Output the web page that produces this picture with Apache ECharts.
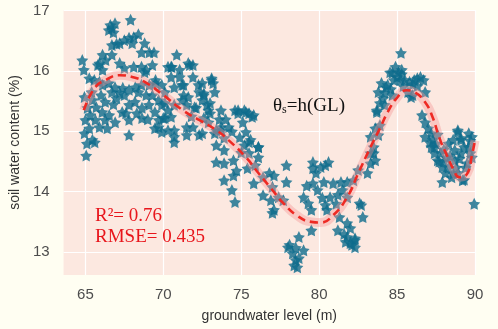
<!DOCTYPE html>
<html>
<head>
<meta charset="utf-8">
<script src="https://cdn.jsdelivr.net/npm/echarts@6/dist/echarts.min.js"></script>
<style>
  html, body { margin: 0; padding: 0; background: #fffef2; }
  #chart { width: 498px; height: 329px; }
</style>
</head>
<body>
<div id="chart"></div>
<script>
// groundwater level (m) / soil water content (%) observations
const obsLevel = [
  66.6, 66.9, 66.5, 66.7, 66.8, 67.9,
  66.7, 67.0, 67.5, 67.8, 68.1, 68.4, 68.0, 68.8, 69.1, 68.6, 69.4, 67.2,
  64.8, 64.9, 66.1, 66.3, 65.8, 66.7, 67.2, 67.5, 68.1, 68.6, 68.9, 69.3, 70.5, 66.1, 65.9, 68.8,
  65.25, 65.57, 65.9, 66.1, 66.5, 66.9, 67.4, 67.8, 68.2, 68.6, 69.1, 69.5, 69.9, 70.1, 67.2, 67.5, 66.7, 68.4, 69.3, 69.5,
  64.94, 65.45, 65.13, 66.27, 66.08, 66.53, 67.36, 67.8, 68.18, 68.63, 69.08, 69.46, 69.9, 65.32, 65.0, 65.64, 66.27, 67.8,
  66.91, 68.63, 69.71, 70.1, 65.25, 65.9, 64.94, 65.45, 67.8, 69.46, 69.9, 65.1, 65.6, 65.05,
  65.4, 66.0, 66.4, 66.8, 67.0, 67.6, 68.3, 69.0, 65.7, 68.9,
  70.86, 70.54, 71.69, 71.05, 71.05, 71.2, 72.26, 73.1, 73.2, 72.3, 72.6, 71.3, 71.5, 70.7, 72.8, 72.1, 73.0, 70.5, 72.6,
  74.8, 75.3, 75.8, 75.1, 71.9, 70.7, 73.4, 73.7, 71.5, 72.3, 73.9, 75.3, 75.5,
  71.6, 71.9, 70.3, 70.5, 70.7, 71.3, 71.9, 72.5, 73.1, 72.6, 73.3, 73.0, 72.9, 73.7, 74.2, 73.7, 73.3,
  74.6, 74.8, 75.2, 75.5, 71.2, 71.6, 72.0, 72.5, 69.7, 70.1, 70.3, 70.0, 69.7, 70.3, 70.7, 70.7, 71.5, 72.5,
  74.0, 74.4, 74.9, 73.6, 72.9, 71.8, 75.0, 74.7,
  73.4, 73.9, 73.4, 73.9, 74.5, 73.9, 74.5, 74.4, 74.6, 75.5, 76.1, 75.4, 75.9, 75.8, 76.4, 76.8, 76.4, 77.0, 76.9, 75.2,
  75.7, 76.1, 75.6, 76.1,
  77.9, 77.1, 77.0, 77.9, 77.4, 77.7, 77.1,
  79.6, 79.8, 80.1, 80.4, 80.6, 79.6, 79.9, 80.3, 79.0, 79.3, 79.5, 80.4, 80.5, 80.9, 81.4, 81.8, 80.7, 81.5, 81.8, 79.6,
  80.2, 81.1, 79.2, 81.2, 82.0, 81.6,
  81.8, 81.2, 81.3, 81.8, 82.3, 82.3, 82.0, 79.5, 78.7, 78.0, 78.3, 78.5, 78.6, 79.0, 78.1, 78.5, 78.7, 78.4,
  82.5, 82.6, 82.8, 83.1, 83.3, 82.2, 83.3, 83.5, 81.7, 82.1, 82.3, 82.7,
  85.25, 84.9, 85.1, 84.7, 85.3, 85.0, 85.2, 85.5, 85.8, 86.1, 86.5, 86.7, 85.7, 86.0, 86.8, 84.55, 85.9, 86.3,
  84.8, 85.4, 86.0, 84.6, 85.3, 86.3,
  84.0, 84.4, 83.8, 84.2, 84.7, 84.1, 83.7, 84.2, 83.6, 83.9, 83.8, 83.7, 83.3, 83.5, 83.6, 83.9, 84.3,
  86.6, 86.8, 87.0, 86.8, 87.1, 87.2, 87.3, 87.4, 87.8, 88.2, 88.7, 89.1, 88.9, 89.3, 89.7, 89.6,
  88.9, 88.6, 89.1, 89.8,
  87.5, 87.7, 88.0, 88.3, 88.6, 88.8, 89.0, 89.4, 89.7, 88.4, 87.6, 89.3,
  87.2, 87.4, 87.6, 87.9, 88.1, 87.9, 88.5, 88.9, 89.2, 88.7, 89.1, 89.6, 89.5, 89.8, 88.3, 88.0, 89.95
]
const obsContent = [
  16.76, 16.79, 16.68, 16.71, 16.64, 16.85,
  16.43, 16.45, 16.51, 16.55, 16.56, 16.61, 16.46, 16.46, 16.31, 16.31, 16.31, 16.46,
  16.18, 16.02, 16.27, 16.18, 16.10, 16.27, 16.13, 16.05, 16.07, 16.07, 16.02, 16.10, 16.07, 16.02, 16.13, 15.98,
  15.88, 15.85, 15.82, 15.77, 15.80, 15.73, 15.72, 15.69, 15.73, 15.77, 15.77, 15.80, 15.77, 15.65, 15.64, 15.60, 15.65, 15.65, 15.60, 15.85,
  15.57, 15.52, 15.39, 15.49, 15.32, 15.27, 15.32, 15.44, 15.49, 15.39, 15.44, 15.32, 15.44, 15.27, 15.19, 15.19, 15.19, 15.19,
  15.15, 15.22, 15.19, 15.22, 15.05, 15.07, 14.97, 14.86, 14.94, 15.05, 14.99, 14.80, 14.82, 14.60,
  15.65, 15.60, 15.05, 15.45, 15.55, 15.30, 15.30, 15.20, 15.40, 15.60,
  16.27, 16.07, 16.10, 16.02, 15.90, 15.77, 15.77, 15.88, 15.80, 15.65, 15.60, 15.60, 15.44, 15.44, 15.44, 15.39, 15.30, 15.24, 15.22,
  15.35, 15.32, 15.27, 15.15, 15.07, 15.02, 15.02, 15.07, 14.94, 14.94, 14.89, 14.99, 14.82,
  16.13, 16.10, 16.07, 15.90, 15.73, 15.77, 15.90, 15.80, 15.85, 15.63, 15.65, 15.47, 15.35, 15.35, 15.07, 15.02, 14.97,
  15.35, 15.30, 15.35, 15.30, 15.52, 15.57, 15.40, 15.52, 15.52, 15.47, 15.35, 15.22, 15.07, 15.02, 14.91, 14.82, 15.07, 14.97,
  15.20, 15.00, 14.90, 15.20, 15.15, 15.25, 14.65, 14.35,
  14.77, 14.69, 14.49, 14.47, 14.52, 14.19, 14.27, 14.03, 13.83, 14.64, 14.74, 14.39, 14.44, 14.14, 14.24, 14.31, 13.94, 13.65, 13.86, 14.77,
  15.24, 14.74, 14.86, 14.57,
  14.44, 14.27, 14.08, 14.16, 13.91, 13.86, 13.70,
  14.39, 14.31, 14.41, 14.44, 14.49, 14.14, 14.03, 14.16, 13.91, 13.81, 13.70, 13.78, 13.70, 14.14, 14.16, 14.16, 13.91, 14.03, 13.91, 14.49,
  13.90, 13.80, 14.10, 13.95, 13.40, 13.30,
  13.48, 13.36, 13.58, 13.25, 13.20, 13.08, 13.15, 13.36, 13.25, 13.08, 12.98, 12.87, 12.75, 13.03, 13.12, 13.07, 12.90, 12.78,
  14.36, 13.81, 13.58, 14.31, 14.47, 14.19, 14.64, 14.74, 13.17, 13.12, 13.23, 13.78,
  16.30, 16.07, 15.98, 15.97, 16.02, 15.90, 15.85, 15.85, 15.82, 15.85, 15.90, 15.85, 15.65, 15.60, 15.65, 15.98, 15.57, 15.88,
  15.85, 15.75, 15.78, 15.70, 15.95, 15.75,
  15.80, 15.77, 15.65, 15.64, 15.60, 15.55, 15.32, 15.44, 15.05, 15.10, 14.94, 15.35, 14.91, 14.64, 14.52, 15.47, 15.73,
  15.27, 15.15, 15.05, 14.91, 14.82, 14.97, 14.86, 14.74, 14.64, 14.57, 14.69, 14.86, 15.02, 14.74, 14.64, 14.97,
  14.99, 14.86, 14.89, 14.91,
  14.80, 14.50, 14.70, 14.80, 14.30, 14.40, 14.55, 14.40, 14.85, 14.60, 14.95, 14.20,
  14.74, 14.64, 14.52, 14.41, 14.31, 14.16, 14.24, 14.31, 14.19, 14.52, 14.64, 14.74, 14.47, 14.57, 14.40, 14.50, 13.80
]

// fitted curve θs = h(GL)
const fitLevel = [64.9, 65.6, 66.3, 67.2, 68.0, 68.8, 69.9, 71.3, 72.3, 73.4, 74.2, 75.3, 76.1, 76.9, 77.7, 78.6, 79.5, 80.1,
  80.9, 81.8, 82.5, 83.3, 83.9, 84.4, 85.0, 85.6, 86.1, 86.8, 87.3, 87.7, 88.2, 88.6, 89.0, 89.5, 89.8, 90.0]
const fitContent = [15.35, 15.72, 15.85, 15.93, 15.9, 15.82, 15.62, 15.34, 15.19, 15.02, 14.85, 14.57, 14.31, 14.06, 13.81, 13.6, 13.5, 13.49,
  13.61, 13.91, 14.3, 14.74, 15.05, 15.32, 15.56, 15.68, 15.65, 15.48, 15.22, 14.9, 14.6, 14.38, 14.24, 14.3, 14.6, 14.85]

const xTicks = [65, 70, 75, 80, 85, 90]
const yTicks = [13, 14, 15, 16, 17]

const starPath = 'path://M50,2 L64.7,31.8 L95.6,37.2 L73.8,59.7 L78.2,90.8 L50,77 L21.8,90.8 L26.2,59.7 L4.4,37.2 L35.3,31.8 Z'
const tickText = { color: '#4d4d4d', fontSize: 15, fontFamily: 'Liberation Sans' }

const chart = echarts.init(document.getElementById('chart'))
chart.setOption({
  animation: false,
  backgroundColor: '#fffef2',
  grid: { left: 61, right: 23, top: 10, bottom: 54, show: true, backgroundColor: '#fce8e0', borderWidth: 0 },
  xAxis: {
    type: 'value', min: 63.6, max: 90,
    name: 'groundwater level (m)', nameLocation: 'middle', nameGap: 34,
    nameTextStyle: { color: '#333', fontSize: 14, fontFamily: 'Liberation Sans' },
    axisLine: { show: false }, axisTick: { show: false }, splitLine: { show: false },
    axisLabel: { ...tickText, margin: 12, customValues: xTicks }
  },
  yAxis: {
    type: 'value', min: 12.62, max: 17.01,
    name: 'soil water content (%)', nameLocation: 'middle', nameGap: 38,
    nameTextStyle: { color: '#333', fontSize: 14, fontFamily: 'Liberation Sans' },
    axisLine: { show: false }, axisTick: { show: false }, splitLine: { show: false },
    axisLabel: { ...tickText, margin: 14, customValues: yTicks }
  },
  series: [
    {
      // white grid lines under the points
      type: 'scatter',
      data: [],
      z: 1,
      markLine: {
        silent: true, symbol: 'none', label: { show: false }, z: 1,
        lineStyle: { color: '#ffffff', width: 1.2, type: 'solid' },
        data: [...xTicks.map((v) => ({ xAxis: v })), ...yTicks.map((v) => ({ yAxis: v }))]
      }
    },
    {
      type: 'scatter',
      data: obsLevel.map((x, i) => [x, obsContent[i]]),
      symbol: starPath,
      symbolSize: 12,
      itemStyle: { color: '#0e6c8c' },
      z: 2
    },
    {
      type: 'line',
      data: fitLevel.map((x, i) => [x, fitContent[i]]),
      smooth: true, symbol: 'none',
      lineStyle: { color: 'rgba(246, 150, 150, 0.4)', width: 9 },
      z: 3
    },
    {
      type: 'line',
      data: fitLevel.map((x, i) => [x, fitContent[i]]),
      smooth: true, symbol: 'none',
      lineStyle: { color: '#ee2a24', width: 2.6, type: [8, 5] },
      z: 4
    }
  ],
  graphic: [
    {
      type: 'text', left: 273, top: 97, z: 10,
      style: {
        text: '{a|θ}{s|s}{a|=h(GL)}',
        rich: {
          a: { fontFamily: 'Liberation Serif', fontSize: 19, fill: '#111', verticalAlign: 'bottom' },
          s: { fontFamily: 'Liberation Serif', fontSize: 12, fill: '#111', padding: [8, 0, 0, 0], verticalAlign: 'bottom' }
        }
      }
    },
    {
      type: 'text', left: 95, top: 207, z: 10,
      style: { text: 'R²= 0.76', fontFamily: 'Liberation Serif', fontSize: 19, fill: '#e8161c' }
    },
    {
      type: 'text', left: 95, top: 228, z: 10,
      style: { text: 'RMSE= 0.435', fontFamily: 'Liberation Serif', fontSize: 19, fill: '#e8161c' }
    }
  ]
})
</script>
</body>
</html>
